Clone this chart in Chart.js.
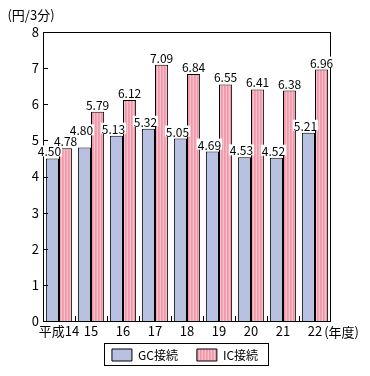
<!DOCTYPE html>
<html>
<head>
<meta charset="utf-8">
<script src="https://cdn.jsdelivr.net/npm/chart.js@4/dist/chart.umd.min.js"></script>
<style>
html,body{margin:0;padding:0;background:#fff;}
#wrap{width:370px;height:376px;}
</style>
</head>
<body>
<div id="wrap"><canvas id="c" width="370" height="376"></canvas></div>
<script>
const categories = ["平成14","15","16","17","18","19","20","21","22"];
const gcValues = [4.50, 4.80, 5.13, 5.32, 5.05, 4.69, 4.53, 4.52, 5.21];
const icValues = [4.78, 5.79, 6.12, 7.09, 6.84, 6.55, 6.41, 6.38, 6.96];
const seriesNames = ["GC接続", "IC接続"];
const yTitle = "(円/3分)";
const xUnit = "(年度)";

const FONT = "'Noto Sans CJK JP', 'Noto Sans', sans-serif";

function stripePattern(){
  const pc = document.createElement('canvas');
  pc.width = 3; pc.height = 4;
  const g = pc.getContext('2d');
  const cols = ['#f3a3b3','#f8c2cc','#f098aa'];
  cols.forEach((c,i)=>{ g.fillStyle=c; g.fillRect(i,0,1,4); });
  return document.getElementById('c').getContext('2d').createPattern(pc,'repeat');
}
const pinkPattern = stripePattern();

const LEGEND_H = 28;
const LEGEND_SHIFT = 13;

const decorPlugin = {
  id:'decor',
  beforeUpdate(chart){
    const lg = chart.legend;
    if(lg && !lg._fitPatched){
      const orig = lg.fit;
      lg.fit = function(){ orig.call(this); this.height = LEGEND_H; };
      lg._fitPatched = true;
    }
  },
  afterLayout(chart){
    const lg = chart.legend;
    if(lg){
      lg.top -= LEGEND_SHIFT;
      lg.bottom = chart.height;
      lg.height = lg.bottom - lg.top;
      lg.left = 0; lg.right = chart.width; lg.width = chart.width;
    }
  },
  afterDatasetsDraw(chart){
    const ctx = chart.ctx;
    const a = chart.chartArea;
    const ys = chart.scales.y, xs = chart.scales.x;
    ctx.save();
    ctx.strokeStyle = '#000';
    ctx.lineWidth = 1;
    ctx.strokeRect(Math.round(a.left)+0.5, Math.round(a.top)+0.5, Math.round(a.right-a.left)-1, Math.round(a.bottom-a.top));
    ctx.beginPath();
    ys.ticks.forEach(t=>{
      const py = Math.round(ys.getPixelForValue(t.value))+0.5;
      ctx.moveTo(a.left, py); ctx.lineTo(a.left+5, py);
    });
    for(let i=0;i<categories.length-1;i++){
      const px = Math.round((xs.getPixelForTick(i)+xs.getPixelForTick(i+1))/2)+0.5;
      ctx.moveTo(px, a.bottom); ctx.lineTo(px, a.bottom-5);
    }
    ctx.stroke();

    ctx.font = '12px ' + FONT;
    ctx.textBaseline = 'alphabetic';
    const placed = [];
    const n = categories.length;
    for(let i=0;i<n;i++){
      chart.data.datasets.forEach((ds,di)=>{
        const el = chart.getDatasetMeta(di).data[i];
        const txt = ds.data[i].toFixed(2);
        const w = ctx.measureText(txt).width;
        let cx = di === 0 ? el.x - 3 : el.x;
        let bottom = el.y - 2;
        let box = {l: cx - w/2 - 1, r: cx + w/2 + 1, t: bottom - 10, b: bottom};
        placed.forEach(p=>{
          if(box.l < p.r && box.r > p.l && box.t < p.b && box.b > p.t){
            bottom = p.t - 1;
            box = {l: box.l, r: box.r, t: bottom - 10, b: bottom};
          }
        });
        placed.push(box);
        ctx.fillStyle = '#fff';
        ctx.fillRect(box.l, bottom - 11, w + 2, 11);
        ctx.fillStyle = '#000';
        ctx.textAlign = 'center';
        ctx.fillText(txt, cx, bottom);
      });
    }

    ctx.font = '13px ' + FONT;
    ctx.textAlign = 'center';
    ctx.textBaseline = 'middle';
    ctx.fillText(yTitle, 31, 15);
    const last = categories.length-1;
    const lx = xs.getPixelForTick(last);
    const lw = ctx.measureText(categories[last]).width;
    ctx.textAlign = 'left';
    ctx.fillText(xUnit, lx + lw/2 + 2, a.bottom + 11);
    ctx.restore();
  },
  afterDraw(chart){
    const ctx = chart.ctx;
    const hb = chart.legend.legendHitBoxes;
    if(hb && hb.length){
      ctx.save();
      ctx.strokeStyle = '#000'; ctx.lineWidth = 1;
      const l = hb[0].left - 8;
      const r = hb[hb.length-1].left + hb[hb.length-1].width + 10;
      const t = hb[0].top - 6;
      const b = hb[0].top + hb[0].height + 4;
      ctx.strokeRect(Math.round(l)+0.5, Math.round(t)+0.5, Math.round(r-l), Math.round(b-t));
      ctx.restore();
    }
  }
};

new Chart(document.getElementById('c'), {
  type:'bar',
  data:{
    labels: categories,
    datasets:[
      {label: seriesNames[0], data: gcValues, backgroundColor:'#b9c1e3', borderColor:'#000', borderWidth:1,
       categoryPercentage:0.82, barPercentage:1.0},
      {label: seriesNames[1], data: icValues, backgroundColor: pinkPattern, borderColor:'#000', borderWidth:1,
       categoryPercentage:0.82, barPercentage:1.0}
    ]
  },
  options:{
    responsive:false,
    animation:false,
    devicePixelRatio:1,
    layout:{padding:{top:32,right:39,left:0,bottom:5}},
    plugins:{
      legend:{
        position:'bottom',
        labels:{font:{size:12,family:FONT}, color:'#000', boxWidth:20, boxHeight:12, padding:19}
      },
      tooltip:{enabled:false},
      title:{display:false}
    },
    scales:{
      x:{
        grid:{display:false, drawTicks:false},
        border:{display:false},
        ticks:{font:{size:13,family:FONT}, color:'#000', padding:2, maxRotation:0, autoSkip:false},
        afterFit(s){ s.height = 22; }
      },
      y:{
        min:0, max:8,
        grid:{display:false, drawTicks:false},
        border:{display:false},
        ticks:{stepSize:1, font:{size:13,family:FONT}, color:'#000', padding:4},
        afterFit(s){ s.width = 43; }
      }
    }
  },
  plugins:[decorPlugin]
});
</script>
</body>
</html>
